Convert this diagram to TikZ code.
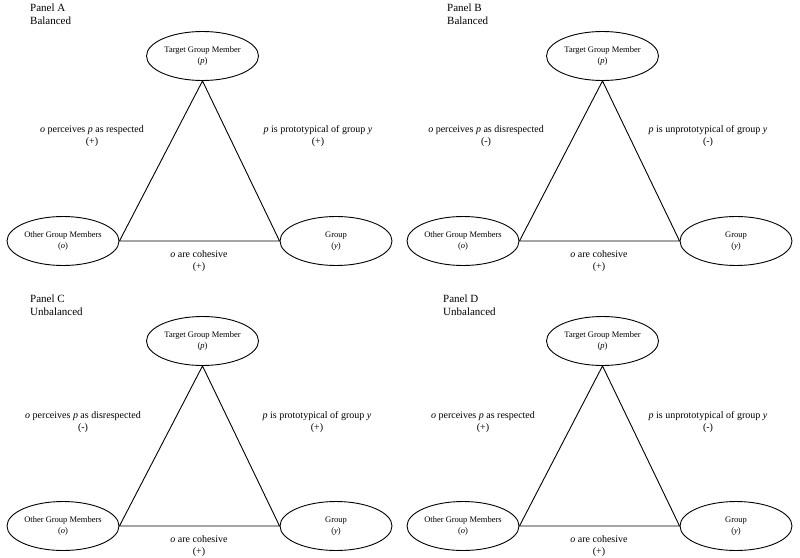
\documentclass[tikz,border=0pt]{standalone}
\usepackage{fontspec}
\setmainfont{Liberation Serif}
\usetikzlibrary{shapes.geometric}
\tikzset{
  ell/.style={ellipse, draw, line width=0.9pt, minimum width=112pt, minimum height=49pt,
    inner sep=0pt, align=center, font=\rmfamily\fontsize{8.5}{11.5}\selectfont},
  lab/.style={align=center, inner sep=0pt, font=\rmfamily\fontsize{10}{12}\selectfont},
  ttl/.style={align=left, anchor=west, inner sep=0pt, font=\rmfamily\fontsize{11}{12.5}\selectfont},
  edgeline/.style={line width=0.9pt}
}
\newcommand\trianglepanel[3]{%
  \begin{scope}[shift={(#2,#3)}]
    \node[ell] (#1t) at (202.5,56) {Target Group Member\\(\textit{p})};
    \node[ell] (#1o) at (63,241) {Other Group Members\\(\textit{o})};
    \node[ell] (#1g) at (336,241) {Group\\(\textit{y})};
    \draw[edgeline] (#1t.south) -- (#1o.east) -- (#1g.west) -- cycle;
    \node[lab] (#1c) at (199,261) {\textit{o} are cohesive\\(+)};
  \end{scope}}
\begin{document}
\begin{tikzpicture}[x=1pt,y=-1pt]
  \fill[white] (0,0) rectangle (800,557);
  \useasboundingbox (0,0) rectangle (800,557);

  \trianglepanel{A}{0}{0}
  \trianglepanel{B}{400}{0}
  \trianglepanel{C}{0}{285}
  \trianglepanel{D}{400}{285}

  % titles
  \node[ttl] (Ati) at (30,14) {Panel A\\Balanced};
  \node[ttl] (Bti) at (447,14) {Panel B\\Balanced};
  \node[ttl] (Cti) at (30,305) {Panel C\\Unbalanced};
  \node[ttl] (Dti) at (443,305) {Panel D\\Unbalanced};

  % side labels
  \node[lab] (Al) at (92,136) {\textit{o} perceives \textit{p} as respected\\(+)};
  \node[lab] (Ar) at (318,136) {\textit{p} is prototypical of group \textit{y}\\(+)};
  \node[lab] (Bl) at (486,136) {\textit{o} perceives \textit{p} as disrespected\\(-)};
  \node[lab] (Br) at (708,136) {\textit{p} is unprototypical of group \textit{y}\\(-)};
  \node[lab] (Cl) at (83,422) {\textit{o} perceives \textit{p} as disrespected\\(-)};
  \node[lab] (Cr) at (317,422) {\textit{p} is prototypical of group \textit{y}\\(+)};
  \node[lab] (Dl) at (483,422) {\textit{o} perceives \textit{p} as respected\\(+)};
  \node[lab] (Dr) at (708,422) {\textit{p} is unprototypical of group \textit{y}\\(-)};
\end{tikzpicture}
\end{document}
